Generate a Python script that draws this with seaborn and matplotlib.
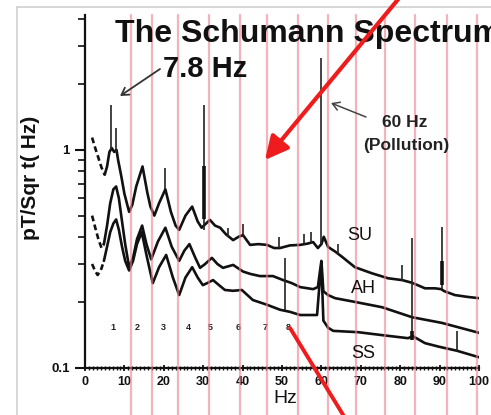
import matplotlib
matplotlib.use("Agg")
import matplotlib.pyplot as plt
import seaborn as sns
from matplotlib.lines import Line2D
from matplotlib.ticker import FixedLocator, MultipleLocator, NullFormatter

# ---------------- data ----------------
su_dash_hz = [1.8, 2.6, 3.4, 4.2, 5.0]
su_dash_val = [1.14, 1.02, 0.92, 0.83, 0.77]
su_hz = [5.0, 5.6, 6.2, 6.8, 7.4, 8.0, 8.4, 9.2, 10.0, 11.2, 12.0, 13.0, 14.6, 15.8, 16.6,
         17.6, 18.8, 20.4, 21.8, 23.0, 23.9, 25.5, 27.2, 28.6, 29.6, 31.7, 33.0, 34.3, 35.8,
         37.6, 39.0, 40.1, 41.9, 44.0, 46.2, 48.0, 49.5, 52.0, 54.6, 56.5, 57.9, 59.1, 60.0,
         60.6, 61.7, 63.5, 65.2, 68.5, 72.8, 76.9, 80.5, 83.0, 86.3, 88.8, 90.4, 91.2, 93.9,
         97.0, 100.0]
su_val = [0.77, 0.84, 0.98, 1.02, 0.98, 1.0, 0.90, 0.76, 0.63, 0.52, 0.56, 0.68, 0.84, 0.64, 0.55,
          0.50, 0.57, 0.66, 0.52, 0.45, 0.43, 0.50, 0.55, 0.47, 0.44, 0.478, 0.45, 0.44, 0.41,
          0.386, 0.40, 0.407, 0.367, 0.37, 0.367, 0.355, 0.355, 0.365, 0.367, 0.372, 0.378, 0.355, 0.37,
          0.40, 0.359, 0.342, 0.324, 0.290, 0.272, 0.258, 0.253, 0.246, 0.232, 0.232, 0.23, 0.225, 0.216,
          0.212, 0.209]

ah_dash_hz = [1.8, 2.6, 3.4, 4.2, 4.8]
ah_dash_val = [0.50, 0.44, 0.39, 0.355, 0.37]
ah_hz = [4.8, 5.6, 6.4, 7.2, 7.9, 8.6, 9.4, 10.2, 11.2, 12.2, 13.2, 14.5, 15.6, 16.8, 18.5,
         20.4, 22.0, 23.9, 25.2, 26.5, 28.0, 29.2, 30.5, 32.2, 33.6, 35.0, 37.6, 40.1, 42.0,
         44.4, 47.7, 50.3, 52.5, 54.6, 57.9, 59.1, 59.6, 60.0, 60.5, 61.7, 63.5, 68.5, 75.4,
         83.0, 90.6, 100.0]
ah_val = [0.37, 0.45, 0.57, 0.66, 0.68, 0.60, 0.47, 0.37, 0.29, 0.32, 0.39, 0.45, 0.37, 0.315, 0.38,
          0.44, 0.36, 0.31, 0.345, 0.37, 0.32, 0.288, 0.30, 0.32, 0.30, 0.288, 0.297, 0.277, 0.27,
          0.264, 0.264, 0.253, 0.245, 0.235, 0.23, 0.235, 0.275, 0.31, 0.225, 0.216, 0.209, 0.201, 0.19,
          0.171, 0.161, 0.145]

ss_dash_hz = [1.8, 2.5, 3.2, 4.0, 4.8]
ss_dash_val = [0.30, 0.28, 0.267, 0.28, 0.31]
ss_hz = [4.8, 5.6, 6.4, 7.2, 7.9, 8.6, 9.4, 10.2, 11.2, 12.2, 13.2, 14.4, 15.6, 17.2, 18.8,
         20.6, 22.3, 23.9, 25.5, 27.2, 28.6, 29.9, 31.0, 32.5, 34.0, 35.5, 37.6, 39.8, 42.6,
         46.2, 49.5, 52.0, 54.6, 58.9, 59.5, 60.0, 60.5, 61.7, 63.0, 69.3, 75.4, 82.0, 83.2,
         86.3, 90.0, 94.4, 100.0]
ss_val = [0.31, 0.36, 0.42, 0.46, 0.48, 0.43, 0.36, 0.31, 0.28, 0.31, 0.37, 0.42, 0.33, 0.245, 0.29,
          0.33, 0.26, 0.216, 0.26, 0.29, 0.26, 0.24, 0.245, 0.253, 0.24, 0.228, 0.226, 0.228, 0.205,
          0.195, 0.185, 0.181, 0.175, 0.175, 0.24, 0.30, 0.165, 0.153, 0.148, 0.146, 0.1415, 0.137, 0.14,
          0.13, 0.125, 0.12, 0.112]

spike_hz = [6.6, 7.8, 20.4, 30.2, 36.3, 40.0, 49.3, 50.7, 55.5, 57.3, 60.0, 64.3, 80.5, 82.9, 90.6, 94.4]
spike_lo = [1.0, 0.98, 0.66, 0.43, 0.40, 0.40, 0.355, 0.185, 0.37, 0.375, 0.37, 0.335, 0.25, 0.137, 0.23, 0.12]
spike_hi = [1.61, 1.26, 0.83, 1.61, 0.44, 0.46, 0.40, 0.32, 0.41, 0.42, 2.64, 0.37, 0.297, 0.395, 0.444, 0.148]

thick_hz = [30.2, 82.9, 90.6]
thick_lo = [0.48, 0.135, 0.24]
thick_hi = [0.84, 0.148, 0.31]

mode_labels = ["1", "2", "3", "4", "5", "6", "7", "8"]
mode_hz = [7.1, 13.2, 19.8, 26.1, 31.7, 38.8, 45.7, 51.5]

marker_hz = [11.7, 17.0, 23.6, 31.5, 39.3, 46.2, 54.1, 61.7, 68.8, 76.1, 83.8, 91.9, 99.5]

x_ticks = [0, 10, 20, 30, 40, 50, 60, 70, 80, 90, 100]
y_ticks = [0.1, 1]
y_tick_labels = ["0.1", "1"]
y_minor = [0.2, 0.3, 0.4, 0.5, 0.6, 0.7, 0.8, 0.9, 2, 3, 4]

# ---------------- figure ----------------
sns.set_theme(style="white")
plt.rcParams['font.family'] = ['Liberation Sans', 'DejaVu Sans']

W, H = 491, 415
fig = plt.figure(figsize=(W / 100, H / 100), dpi=100)
fig.patch.set_facecolor("white")
ax = fig.add_axes([85 / W, 1 - 368 / H, 394 / W, 353 / H])
ax.set_facecolor("white")
ax.set_yscale("log")
ax.set_xlim(0, 100)
ax.set_ylim(0.1, 4.16)


def fx(px):
    return px / W


def fy(py):
    return 1 - py / H


def curve(hz, val, ls):
    sns.lineplot(x=hz, y=val, ax=ax, color="#111111", lw=1.9, linestyle=ls,
                 estimator=None, sort=False, zorder=3)


dash = (0, (2.2, 1.3))
curve(su_dash_hz, su_dash_val, dash)
curve(ah_dash_hz, ah_dash_val, dash)
curve(ss_dash_hz, ss_dash_val, dash)
curve(su_hz, su_val, "-")
curve(ah_hz, ah_val, "-")
curve(ss_hz, ss_val, "-")

ax.vlines(spike_hz, spike_lo, spike_hi, color="#222222", lw=1.2, zorder=3)
ax.vlines(thick_hz, thick_lo, thick_hi, color="#111111", lw=2.6, zorder=3)

# pink marker lines reaching to the bottom of the image
for h in marker_hz:
    ax.axvline(h, ymin=-47 / 353, ymax=1, clip_on=False, color="#ee7f8c",
               lw=1.6, alpha=0.6, zorder=5)

for lab, h in zip(mode_labels, mode_hz):
    ax.text(h, 0.154, lab, ha="center", va="center", fontsize=6.5,
            fontweight="bold", color="#222222", zorder=4)

# spines / ticks
for s in ["top", "right"]:
    ax.spines[s].set_visible(False)
for s in ["left", "bottom"]:
    ax.spines[s].set_color("#111111")
    ax.spines[s].set_linewidth(1.6)

ax.set_yticks(y_ticks)
ax.set_yticklabels(y_tick_labels)
ax.yaxis.set_minor_locator(FixedLocator(y_minor))
ax.yaxis.set_minor_formatter(NullFormatter())
ax.set_xticks(x_ticks)
ax.set_xticklabels([str(t) for t in x_ticks])
ax.xaxis.set_minor_locator(MultipleLocator(1))

ax.tick_params(axis="y", which="major", direction="out", length=7, width=1.5,
               labelsize=9.5, pad=4, colors="#111111", left=True)
ax.tick_params(axis="y", which="minor", direction="out", length=5, width=1.2,
               colors="#111111", left=True)
ax.tick_params(axis="x", which="major", direction="inout", length=5, width=1.3,
               labelsize=9, pad=3, colors="#111111", bottom=True)
ax.tick_params(axis="x", which="minor", direction="inout", length=3, width=1.0,
               colors="#111111", bottom=True)
for lbl in ax.get_xticklabels() + ax.get_yticklabels():
    lbl.set_fontweight("bold")

ax.set_ylabel("pT/Sqr t( Hz)", fontsize=15, fontweight="bold", color="#111111")
ax.yaxis.set_label_coords(-0.114, 0.538)
ax.set_xlabel("Hz", fontsize=14, color="#111111")
ax.xaxis.set_label_coords(0.508, -0.062)

# texts
fig.text(fx(115), fy(42), "The Schumann Spectrum", fontsize=23, fontweight="bold",
         ha="left", va="baseline", color="#111111")
fig.text(fx(163), fy(77), "7.8 Hz", fontsize=21, fontweight="bold",
         ha="left", va="baseline", color="#111111")
fig.text(fx(405), fy(127), "60 Hz", fontsize=12.5, fontweight="bold",
         ha="center", va="baseline", color="#222222")
fig.text(fx(406), fy(150), "(Pollution)", fontsize=12.5, fontweight="bold",
         ha="center", va="baseline", color="#222222")
fig.text(fx(360), fy(235), "SU", fontsize=13, ha="center", va="center", color="#111111")
fig.text(fx(363), fy(288), "AH", fontsize=13, ha="center", va="center", color="#111111")
fig.text(fx(363), fy(353), "SS", fontsize=13, ha="center", va="center", color="#111111")

# thin annotation arrows
fig.add_artist(matplotlib.patches.FancyArrowPatch(
    (160, H - 69), (120, H - 96), transform=None, arrowstyle="->,head_length=5,head_width=3",
    color="#333333", lw=1.3, shrinkA=0, shrinkB=0))
fig.add_artist(matplotlib.patches.FancyArrowPatch(
    (366, H - 117), (331, H - 103), transform=None, arrowstyle="->,head_length=5,head_width=3",
    color="#444444", lw=1.1, shrinkA=0, shrinkB=0))

# red arrows
fig.add_artist(matplotlib.patches.FancyArrowPatch(
    (400, H + 3), (265, H - 160), transform=None,
    arrowstyle="-|>,head_length=14,head_width=7", color="#ee1c1c", lw=3,
    shrinkA=0, shrinkB=0, zorder=10))
fig.add_artist(matplotlib.patches.FancyArrowPatch(
    (345, -3), (290, H - 328), transform=None, arrowstyle="-",
    color="#ee1c1c", lw=2.8, shrinkA=0, shrinkB=0, zorder=10))

# light frame of the screenshot
fig.add_artist(Line2D([fx(17), fx(17)], [0, fy(7)], transform=fig.transFigure,
                      color="#cfcfcf", lw=1.2))
fig.add_artist(Line2D([fx(17), 1], [fy(7), fy(7)], transform=fig.transFigure,
                      color="#cfcfcf", lw=1.2))

fig.savefig("out.png", dpi=100)
